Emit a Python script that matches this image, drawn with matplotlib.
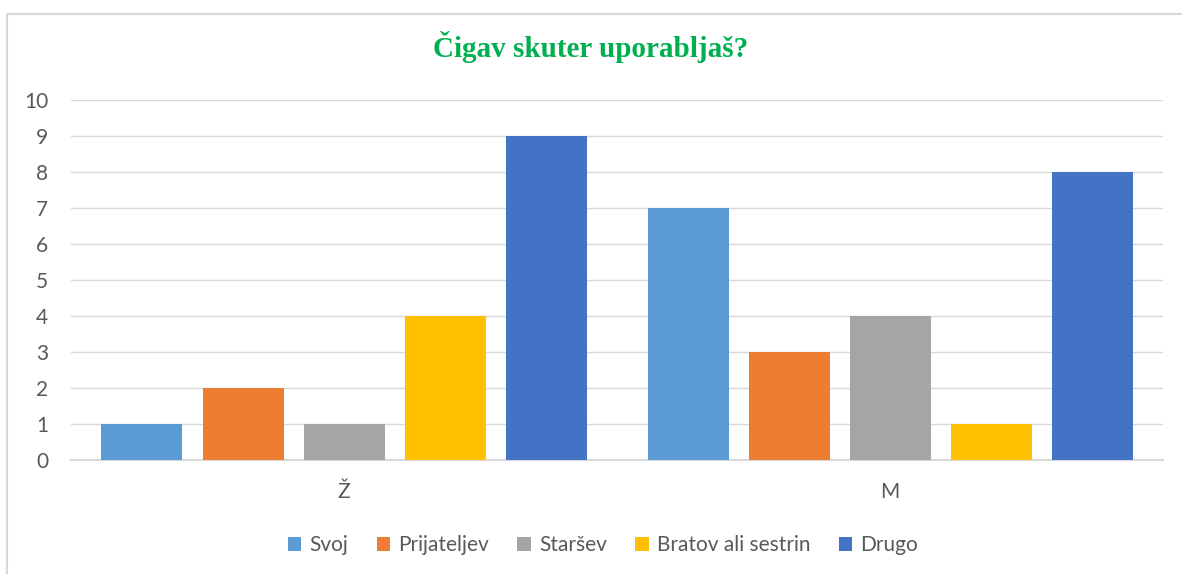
import matplotlib
matplotlib.use('Agg')
import matplotlib.pyplot as plt
from matplotlib.lines import Line2D
import numpy as np

# podatki
categories = ['Ž', 'M']
series = ['Svoj', 'Prijateljev', 'Staršev', 'Bratov ali sestrin', 'Drugo']
svoj = [1, 7]
prijateljev = [2, 3]
starsev = [1, 4]
bratov = [4, 1]
drugo = [9, 8]
values = [svoj, prijateljev, starsev, bratov, drugo]
colors = ['#5B9BD5', '#ED7D31', '#A5A5A5', '#FFC000', '#4472C4']

plt.rcParams['font.family'] = ['Lato', 'DejaVu Sans']

W, H = 1182, 574
fig = plt.figure(figsize=(W / 100, H / 100), dpi=100)
ax = fig.add_axes([71 / W, 1 - 460 / H, (1163 - 71) / W, 360 / H])

index = np.arange(len(categories))
step = 101 / 546
bar_width = 81 / 546
for i, (name, vals, c) in enumerate(zip(series, values, colors)):
    ax.bar(index + (i - 2) * step, vals, bar_width, color=c, label=name, zorder=3)

ax.set_xlim(-0.5, 1.5)
ax.set_ylim(0, 10)
ax.set_yticks(range(0, 11))
ax.grid(axis='y', color='#D9D9D9', linewidth=1, zorder=0)
ax.set_xticks(index)
ax.set_xticklabels(categories)
ax.tick_params(axis='both', length=0, labelsize=15, labelcolor='#595959')
ax.tick_params(axis='y', pad=16.5)
ax.tick_params(axis='x', pad=16)
for s in ['top', 'right', 'left']:
    ax.spines[s].set_visible(False)
ax.spines['bottom'].set_color('#D9D9D9')
ax.spines['bottom'].set_linewidth(1.5)

fig.text(0.5, 1 - 47 / H, 'Čigav skuter uporabljaš?', ha='center', va='center',
         fontsize=21, fontweight='bold', color='#00B050', family='Liberation Serif')

leg = fig.legend(loc='center', bbox_to_anchor=(603 / W, 1 - 545 / H), ncol=5, frameon=False,
                 fontsize=15, handlelength=0.65, handleheight=0.65, handletextpad=0.4,
                 columnspacing=1.35)
for t in leg.get_texts():
    t.set_color('#595959')

# okvir
fig.add_artist(Line2D([7 / W, 7 / W], [0, 1 - 14 / H], color='#D9D9D9', linewidth=1.5))
fig.add_artist(Line2D([7 / W, 1], [1 - 14 / H, 1 - 14 / H], color='#D9D9D9', linewidth=1.5))

fig.savefig('out.png', dpi=100)
